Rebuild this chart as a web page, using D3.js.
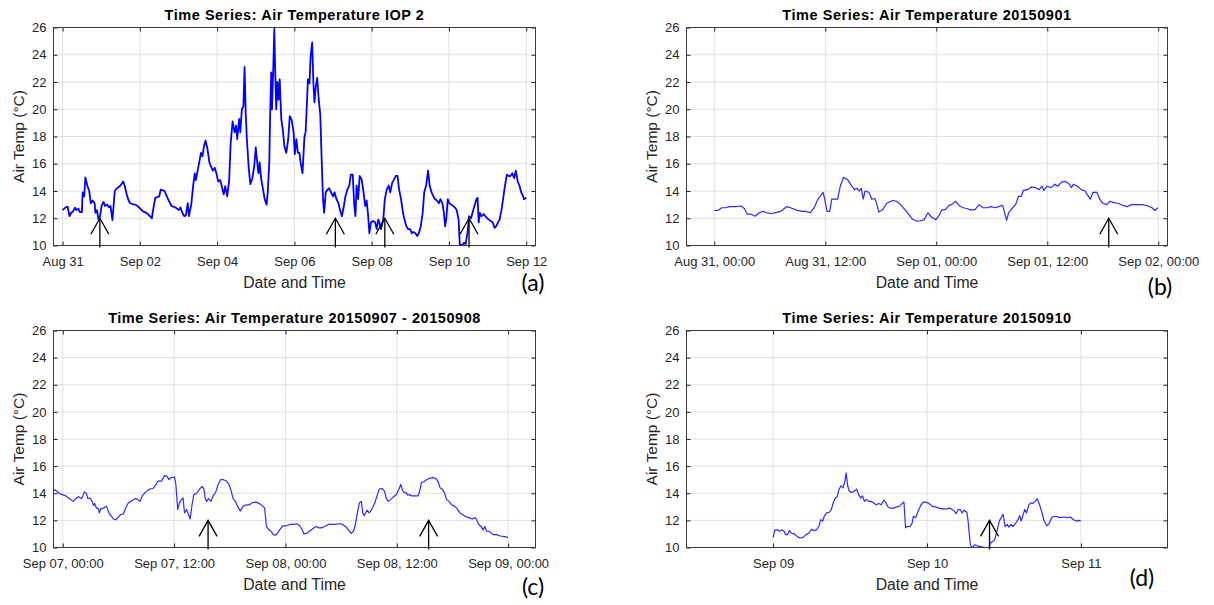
<!DOCTYPE html>
<html>
<head>
<meta charset="utf-8">
<script src="https://cdn.jsdelivr.net/npm/d3@7"></script>
<style>
	body { margin: 0; background: #fff; }
	svg { display: block; }
	text { font-family: "Liberation Sans", Arial, sans-serif; fill: #262626; }
</style>
</head>
<body>
<svg id="chart" width="1214" height="605"></svg>
<script>
'use strict';

const DAY = 864e5;
const HOUR = 36e5;

// y axis (same for every panel)
const tempTicks = [10, 12, 14, 16, 18, 20, 22, 24, 26];

// (a) whole IOP 2, offsets in days from Aug 31 00:00
const iopStart = Date.UTC(2015, 7, 31);
const iopSeries = [
	[0.00,12.6],[0.08,12.8],[0.13,12.85],[0.18,12.15],[0.22,12.4],[0.27,12.5],[0.32,12.77],[0.36,12.6],
	[0.41,12.7],[0.45,12.45],[0.50,12.45],[0.52,13.9],[0.56,13.6],[0.59,15.0],[0.64,14.4],[0.69,14.0],
	[0.73,13.1],[0.78,13.3],[0.83,13.1],[0.85,12.4],[0.89,12.6],[0.93,11.9],[0.97,12.15],[1.01,12.9],
	[1.06,13.2],[1.10,12.9],[1.15,13.0],[1.20,12.8],[1.24,12.9],[1.29,11.86],[1.32,12.9],[1.35,14.0],
	[1.41,14.2],[1.48,14.35],[1.52,14.5],[1.57,14.7],[1.61,14.35],[1.66,13.75],[1.71,13.3],[1.75,13.1],
	[1.85,13.0],[1.89,13.0],[1.99,12.77],[2.08,12.5],[2.17,12.4],[2.26,12.15],[2.31,12.0],[2.36,12.9],
	[2.40,13.5],[2.50,13.6],[2.54,14.1],[2.64,14.0],[2.73,13.4],[2.82,12.9],[2.91,12.8],[3.01,12.6],
	[3.05,12.8],[3.10,12.4],[3.15,12.15],[3.19,12.2],[3.24,13.1],[3.27,12.15],[3.33,13.0],[3.38,14.4],
	[3.42,15.3],[3.45,14.8],[3.49,15.4],[3.55,16.3],[3.58,16.8],[3.62,16.55],[3.66,17.3],[3.70,17.7],
	[3.75,17.1],[3.80,16.1],[3.84,15.8],[3.89,15.5],[3.94,15.7],[3.98,15.3],[4.03,14.7],[4.08,14.8],
	[4.12,14.35],[4.17,13.75],[4.21,14.35],[4.26,13.6],[4.31,14.7],[4.35,17.5],[4.40,19.1],[4.45,18.3],
	[4.49,18.8],[4.52,17.8],[4.57,19.3],[4.60,18.3],[4.64,20.0],[4.68,20.2],[4.71,23.1],[4.74,19.7],
	[4.77,17.8],[4.82,15.6],[4.86,14.5],[4.91,14.9],[4.96,15.8],[5.00,17.2],[5.03,16.3],[5.07,15.3],
	[5.10,16.1],[5.14,14.9],[5.19,14.1],[5.23,13.4],[5.28,13.0],[5.31,13.9],[5.35,16.1],[5.37,19.3],
	[5.40,22.7],[5.42,20.0],[5.45,22.7],[5.48,25.9],[5.50,23.2],[5.53,20.0],[5.56,22.0],[5.59,20.7],
	[5.62,22.2],[5.66,19.3],[5.70,18.5],[5.74,17.3],[5.79,16.8],[5.84,17.8],[5.88,19.5],[5.93,19.2],
	[5.98,18.3],[6.01,16.7],[6.05,17.8],[6.09,16.8],[6.13,16.8],[6.16,16.1],[6.21,15.3],[6.26,18.0],
	[6.29,18.3],[6.32,20.2],[6.35,22.2],[6.39,21.9],[6.42,23.9],[6.46,24.9],[6.49,22.0],[6.52,20.5],
	[6.55,21.6],[6.59,22.3],[6.63,20.7],[6.67,19.6],[6.70,16.8],[6.74,13.4],[6.77,12.4],[6.81,13.9],
	[6.86,14.1],[6.90,14.2],[6.95,13.9],[7.00,13.6],[7.04,13.9],[7.09,13.4],[7.14,13.1],[7.18,12.6],
	[7.23,12.15],[7.28,12.9],[7.32,13.6],[7.37,14.1],[7.42,14.4],[7.46,15.2],[7.51,15.2],[7.55,12.9],
	[7.58,12.15],[7.61,14.4],[7.65,13.4],[7.69,15.1],[7.74,14.85],[7.79,13.9],[7.83,12.9],[7.87,13.3],
	[7.91,12.15],[7.94,10.9],[7.98,11.7],[8.04,11.8],[8.09,11.7],[8.13,11.2],[8.17,11.9],[8.20,11.7],
	[8.24,11.2],[8.30,11.9],[8.34,13.4],[8.39,14.1],[8.44,14.4],[8.48,13.9],[8.53,14.6],[8.58,14.85],
	[8.62,15.1],[8.67,15.1],[8.71,14.1],[8.76,13.4],[8.81,12.4],[8.85,11.9],[8.90,11.4],[8.95,11.2],
	[8.99,11.2],[9.04,10.9],[9.08,11.0],[9.13,10.9],[9.18,10.7],[9.22,10.9],[9.27,11.4],[9.32,12.4],
	[9.36,13.9],[9.41,14.4],[9.46,15.5],[9.50,14.4],[9.55,13.9],[9.60,13.6],[9.64,13.4],[9.69,13.3],
	[9.74,13.1],[9.78,13.4],[9.83,13.1],[9.87,12.4],[9.90,11.4],[9.93,11.9],[9.97,13.4],[10.01,13.1],
	[10.06,13.0],[10.11,12.9],[10.15,12.8],[10.20,12.6],[10.25,11.9],[10.28,10.1],[10.34,10.0],[10.39,10.2],
	[10.43,10.1],[10.48,10.9],[10.52,12.15],[10.57,12.0],[10.61,12.4],[10.66,12.9],[10.71,13.4],[10.74,13.5],
	[10.77,11.7],[10.80,12.4],[10.84,12.15],[10.90,12.3],[10.94,12.15],[10.99,12.0],[11.03,11.9],[11.08,11.8],
	[11.13,11.7],[11.18,11.3],[11.22,11.4],[11.27,11.7],[11.31,11.9],[11.36,12.6],[11.41,13.6],[11.45,14.4],
	[11.50,15.2],[11.55,15.1],[11.59,15.1],[11.64,15.3],[11.69,14.95],[11.73,15.5],[11.78,14.7],[11.83,14.35],
	[11.87,13.9],[11.92,13.6],[11.94,13.4],[12.00,13.5]
];
const iopArrows = [0.965, 7.06, 8.34, 10.52];

// (b) 20150901, offsets in hours from Aug 31 00:00
const sep01Start = Date.UTC(2015, 7, 31);
const sep01Series = [
	[0,12.57],[0.38,12.57],[0.81,12.77],[1.23,12.77],[1.66,12.85],[2.29,12.85],[2.93,12.9],[3.27,12.7],
	[3.57,12.3],[3.99,12.3],[4.42,12.15],[4.84,12.4],[5.27,12.5],[5.69,12.4],[6.12,12.35],[6.54,12.4],
	[7.18,12.5],[7.82,12.85],[8.24,12.77],[8.88,12.6],[9.52,12.5],[9.94,12.5],[10.37,12.4],[10.79,12.77],
	[11.21,13.4],[11.77,13.9],[11.94,13.4],[12.19,12.5],[12.49,12.5],[12.70,13.4],[13.13,13.4],[13.34,13.4],
	[13.64,14.4],[13.98,15.0],[14.40,14.85],[14.83,14.4],[15.17,14.1],[15.46,14.2],[15.68,14.0],[15.89,14.2],
	[16.10,13.4],[16.31,14.0],[16.74,13.9],[17.03,13.4],[17.37,13.45],[17.59,13.0],[17.80,12.45],[18.22,12.65],
	[18.65,13.1],[19.29,13.3],[19.71,13.25],[20.14,13.0],[20.77,12.5],[21.41,11.95],[21.84,11.8],[22.26,11.8],
	[22.69,11.9],[23.11,12.4],[23.53,12.05],[23.96,11.9],[24.26,12.15],[24.60,12.6],[25.02,12.65],[25.36,12.95],
	[25.66,13.0],[26.08,13.25],[26.51,12.9],[26.93,12.77],[27.36,12.7],[27.78,12.6],[28.21,12.65],[28.63,13.0],
	[29.06,12.77],[29.48,12.77],[29.91,12.85],[30.33,12.77],[30.76,12.85],[31.18,12.95],[31.39,12.4],[31.61,11.85],
	[31.82,12.4],[32.16,12.7],[32.58,13.0],[32.88,13.6],[33.18,13.6],[33.43,14.05],[33.86,14.1],[34.28,14.3],
	[34.71,14.25],[35.13,14.1],[35.43,14.35],[35.64,14.05],[35.98,14.35],[36.41,14.25],[36.83,14.5],[37.13,14.35],
	[37.55,14.65],[37.98,14.7],[38.40,14.5],[38.61,14.25],[38.83,14.5],[39.25,14.35],[39.68,14.1],[40.10,14.0],
	[40.31,13.75],[40.65,13.4],[40.95,13.9],[41.38,13.9],[41.67,13.4],[42.01,13.1],[42.44,13.0],[42.78,13.25],
	[43.20,13.15],[43.63,13.1],[44.14,12.95],[44.65,12.85],[45.07,13.0],[45.62,13.0],[46.26,13.0],[46.90,12.9],
	[47.32,12.77],[47.62,12.57],[47.96,12.77]
];
const sep01Arrows = [42.65];

// (c) 20150907 - 20150908, offsets in hours from Sep 07 00:00
const sep07Start = Date.UTC(2015, 8, 7);
const sep07Series = [
	[-1.0,14.2],[-0.81,14.25],[-0.42,14.0],[-0.04,13.9],[0.35,13.8],[0.73,13.6],[1.12,13.4],[1.39,13.6],
	[1.70,13.75],[2.01,13.6],[2.16,13.8],[2.31,14.1],[2.55,14.0],[2.70,13.6],[2.93,13.65],[3.16,13.4],
	[3.32,13.1],[3.43,13.25],[3.63,12.9],[3.82,12.9],[3.94,12.55],[4.09,12.85],[4.40,12.9],[4.71,13.05],
	[4.98,12.55],[5.25,12.3],[5.48,12.1],[5.71,12.05],[5.94,12.2],[6.25,12.45],[6.52,12.45],[6.71,12.8],
	[7.02,13.25],[7.41,13.45],[7.79,13.6],[8.06,13.55],[8.33,13.4],[8.56,13.8],[8.95,14.1],[9.34,14.3],
	[9.72,14.35],[10.07,14.65],[10.26,14.9],[10.65,14.9],[10.96,15.3],[11.23,15.25],[11.46,15.0],[11.65,15.15],
	[12.04,15.2],[12.19,14.65],[12.38,12.8],[12.58,13.3],[12.81,13.55],[12.96,13.65],[13.12,12.55],[13.35,12.8],
	[13.54,12.45],[13.73,12.1],[13.93,13.15],[14.12,13.9],[14.43,14.0],[14.74,14.3],[15.01,14.5],[15.20,14.35],
	[15.36,13.6],[15.51,13.4],[15.70,13.6],[15.97,13.4],[16.24,13.85],[16.47,14.05],[16.74,14.65],[17.01,15.0],
	[17.32,15.0],[17.63,14.9],[17.90,14.65],[18.09,14.3],[18.36,13.6],[18.60,13.4],[18.83,13.05],[19.14,12.7],
	[19.44,13.05],[19.83,13.15],[20.14,13.15],[20.41,13.3],[20.80,13.35],[21.18,13.25],[21.57,13.05],[21.76,12.9],
	[21.95,11.55],[22.22,11.3],[22.45,11.2],[22.69,10.95],[22.92,10.9],[23.15,11.05],[23.38,11.3],[23.69,11.6],
	[24.07,11.6],[24.46,11.7],[24.85,11.7],[25.23,11.75],[25.54,11.6],[25.81,11.3],[26.00,11.0],[26.31,11.05],
	[26.70,11.25],[27.08,11.45],[27.35,11.55],[27.55,11.45],[27.86,11.45],[28.24,11.55],[28.63,11.7],[29.01,11.7],
	[29.40,11.7],[29.78,11.75],[30.17,11.7],[30.56,11.5],[30.83,11.25],[31.10,11.05],[31.40,11.3],[31.60,11.95],
	[31.79,12.7],[31.98,13.3],[32.18,13.4],[32.33,12.55],[32.48,12.35],[32.64,12.55],[32.79,12.75],[33.02,12.55],
	[33.33,12.85],[33.64,13.3],[33.91,13.9],[34.10,14.3],[34.41,14.35],[34.68,14.15],[34.88,13.6],[35.07,13.4],
	[35.34,13.55],[35.65,13.75],[35.96,13.9],[36.23,14.3],[36.42,14.65],[36.61,14.25],[36.81,14.05],[37.00,14.05],
	[37.19,13.85],[37.38,13.9],[37.65,13.8],[37.96,13.8],[38.27,13.8],[38.43,14.05],[38.66,14.8],[38.93,14.85],
	[39.20,15.0],[39.51,15.1],[39.89,15.15],[40.20,15.1],[40.43,14.9],[40.66,14.4],[40.90,14.3],[41.13,14.05],
	[41.36,13.55],[41.63,13.4],[41.90,13.15],[42.21,13.05],[42.52,12.85],[42.79,12.55],[43.06,12.45],[43.36,12.3],
	[43.75,12.2],[44.14,12.1],[44.44,12.2],[44.60,12.05],[44.83,11.7],[45.10,11.55],[45.29,11.3],[45.49,11.55],
	[45.68,11.2],[45.87,11.2],[46.14,11.1],[46.37,10.95],[46.76,10.95],[47.14,10.85],[47.61,10.8],[47.99,10.75]
];
const sep07Arrows = [15.66, 39.43];

// (d) 20150910, offsets in hours from Sep 09 00:00
const sep10Start = Date.UTC(2015, 8, 9);
const sep10Series = [
	[0,10.75],[0.30,11.3],[0.67,11.3],[1.04,11.2],[1.34,11.3],[1.64,11.25],[1.95,10.95],[2.25,10.95],
	[2.56,11.25],[2.86,11.05],[3.29,11.0],[3.78,10.8],[4.20,10.7],[4.69,10.75],[5.12,10.95],[5.54,11.05],
	[6.03,11.35],[6.33,11.25],[6.76,11.3],[7.13,11.55],[7.43,12.05],[7.74,11.95],[7.98,12.3],[8.35,12.55],
	[8.77,12.6],[9.08,12.8],[9.38,13.3],[9.69,13.65],[9.99,13.75],[10.29,14.3],[10.60,14.55],[10.90,14.4],
	[11.21,14.9],[11.39,15.5],[11.63,14.55],[11.88,14.15],[12.24,14.05],[12.61,14.15],[13.04,14.3],[13.34,13.9],
	[13.64,13.65],[13.95,13.8],[14.25,13.4],[14.56,13.55],[14.92,13.4],[15.29,13.4],[15.65,13.3],[16.08,13.15],
	[16.51,13.25],[16.87,13.15],[17.30,13.5],[17.60,13.3],[17.91,13.0],[18.33,12.9],[18.82,12.9],[19.31,13.0],
	[19.74,13.05],[20.16,13.25],[20.41,13.35],[20.65,11.45],[20.95,11.55],[21.38,11.55],[21.68,11.8],[21.87,12.3],
	[22.23,12.2],[22.60,12.65],[22.96,13.05],[23.39,13.35],[23.82,13.35],[24.30,13.25],[24.79,13.05],[25.28,13.0],
	[25.83,12.9],[26.44,12.85],[27.05,12.85],[27.65,12.9],[28.08,12.75],[28.57,12.5],[28.87,12.8],[29.18,12.8],
	[29.48,12.55],[29.79,12.75],[30.21,12.6],[30.39,12.05],[30.58,11.05],[30.76,10.2],[31.00,10.0],[31.49,10.2],
	[31.92,10.1],[32.53,10.05],[33.14,10.0],[33.62,10.0],[33.87,10.3],[34.23,10.45],[34.54,10.55],[34.96,11.3],
	[35.27,11.95],[35.57,12.2],[35.88,12.45],[36.18,11.55],[36.49,11.7],[36.79,11.5],[37.10,11.7],[37.40,11.55],
	[37.83,11.8],[38.19,12.05],[38.44,12.35],[38.68,11.95],[38.92,12.3],[39.23,12.8],[39.53,12.55],[39.84,13.1],
	[40.14,13.3],[40.51,13.25],[40.87,13.4],[41.18,13.6],[41.48,13.25],[41.85,12.7],[42.27,11.95],[42.70,11.6],
	[43.06,11.8],[43.49,12.25],[44.10,12.3],[44.71,12.2],[45.32,12.25],[45.93,12.2],[46.35,12.25],[46.84,12.05],
	[47.33,11.95],[47.69,12.0],[48.00,11.95]
];
const sep10Arrows = [33.75];

const arrowTip = 12;

const panels = [
	{
		title: 'Time Series: Air Temperature IOP 2',
		box: { left: 53.5, right: 535.5, top: 27.5, bottom: 245.5 },
		start: iopStart, unit: DAY, series: iopSeries, arrows: iopArrows,
		domain: [-0.235, 12.24],
		ticks: d3.utcDay.range(new Date(iopStart), new Date(iopStart + 12 * DAY + 1), 2),
		format: d3.utcFormat('%b %d'),
		letter: '(a)', letterPos: [533, 291],
		stroke: '#0000ff', width: 1.8
	},
	{
		title: 'Time Series: Air Temperature 20150901',
		box: { left: 686.5, right: 1167.5, top: 27.5, bottom: 245.5 },
		start: sep01Start, unit: HOUR, series: sep01Series, arrows: sep01Arrows,
		domain: [-3.0, 49.0],
		ticks: d3.utcHour.range(new Date(sep01Start), new Date(sep01Start + 48 * HOUR + 1), 12),
		format: d3.utcFormat('%b %d, %H:%M'),
		letter: '(b)', letterPos: [1160, 295],
		stroke: '#2b2bff', width: 1.2
	},
	{
		title: 'Time Series: Air Temperature 20150907 - 20150908',
		box: { left: 53.5, right: 535.5, top: 330.5, bottom: 547.5 },
		start: sep07Start, unit: HOUR, series: sep07Series, arrows: sep07Arrows,
		domain: [-1.0, 50.95],
		ticks: d3.utcHour.range(new Date(sep07Start), new Date(sep07Start + 48 * HOUR + 1), 12),
		format: d3.utcFormat('%b %d, %H:%M'),
		letter: '(c)', letterPos: [533, 595],
		stroke: '#2b2bff', width: 1.2
	},
	{
		title: 'Time Series: Air Temperature 20150910',
		box: { left: 686.5, right: 1167.5, top: 330.5, bottom: 547.5 },
		start: sep10Start, unit: HOUR, series: sep10Series, arrows: sep10Arrows,
		domain: [-13.5, 61.5],
		ticks: d3.utcDay.range(new Date(sep10Start), new Date(sep10Start + 48 * HOUR + 1), 1),
		format: d3.utcFormat('%b %d'),
		letter: '(d)', letterPos: [1142, 586],
		stroke: '#2b2bff', width: 1.2
	}
];

const svg = d3.select('#chart');
svg.append('rect').attr('width', 1214).attr('height', 605).attr('fill', '#fff');

panels.forEach((p, i) => drawPanel(p, i));

function drawPanel(p, i) {
	const b = p.box;
	const toDate = t => new Date(p.start + t * p.unit);
	const x = d3.scaleUtc()
		.domain(p.domain.map(toDate))
		.range([b.left, b.right]);
	const y = d3.scaleLinear()
		.domain([10, 26])
		.range([b.bottom, b.top]);

	const g = svg.append('g');

	// grid lines
	g.append('g').selectAll('line.gy')
		.data(tempTicks)
		.join('line')
			.attr('x1', b.left).attr('x2', b.right)
			.attr('y1', d => y(d)).attr('y2', d => y(d))
			.attr('stroke', '#e0e0e0').attr('stroke-width', 1);
	g.append('g').selectAll('line.gx')
		.data(p.ticks)
		.join('line')
			.attr('x1', d => x(d)).attr('x2', d => x(d))
			.attr('y1', b.top).attr('y2', b.bottom)
			.attr('stroke', '#e0e0e0').attr('stroke-width', 1);

	// axes via d3.axis, ticks inward
	const w = b.right - b.left, h = b.bottom - b.top;
	const axStyle = sel => {
		sel.select('.domain').remove();
		sel.selectAll('.tick line').attr('stroke', '#262626');
		sel.selectAll('.tick text')
			.attr('fill', '#262626')
			.style('font-size', '13px')
			.style('font-family', '"Liberation Sans", Arial, sans-serif');
	};
	g.append('g')
		.attr('transform', `translate(0,${b.bottom})`)
		.call(d3.axisBottom(x).tickValues(p.ticks).tickFormat(p.format).tickSizeInner(-4).tickSizeOuter(0).tickPadding(11))
		.call(axStyle);
	g.append('g')
		.attr('transform', `translate(0,${b.top})`)
		.call(d3.axisTop(x).tickValues(p.ticks).tickFormat('').tickSizeInner(-4).tickSizeOuter(0))
		.call(axStyle);
	g.append('g')
		.attr('transform', `translate(${b.left},0)`)
		.call(d3.axisLeft(y).tickValues(tempTicks).tickSizeInner(-4).tickSizeOuter(0).tickPadding(7))
		.call(axStyle);
	g.append('g')
		.attr('transform', `translate(${b.right},0)`)
		.call(d3.axisRight(y).tickValues(tempTicks).tickFormat('').tickSizeInner(-4).tickSizeOuter(0))
		.call(axStyle);

	// data line
	const clipId = 'clip' + i;
	svg.append('clipPath').attr('id', clipId)
		.append('rect')
			.attr('x', b.left).attr('y', b.top - 1)
			.attr('width', w).attr('height', h + 1);
	g.append('path')
		.datum(p.series)
		.attr('clip-path', `url(#${clipId})`)
		.attr('fill', 'none')
		.attr('stroke', p.stroke)
		.attr('stroke-width', p.width)
		.attr('stroke-linejoin', 'round')
		.attr('d', d3.line()
			.x(d => x(toDate(d[0])))
			.y(d => y(d[1])));

	// axes box
	g.append('rect')
		.attr('x', b.left).attr('y', b.top)
		.attr('width', w).attr('height', h)
		.attr('fill', 'none')
		.attr('stroke', '#3a3a3a')
		.attr('stroke-width', 1);

	// arrows marking events
	const arr = g.append('g').selectAll('g')
		.data(p.arrows)
		.join('g')
			.attr('stroke', '#000')
			.attr('stroke-width', 1.3)
			.attr('fill', 'none');
	arr.append('line')
		.attr('x1', d => x(toDate(d))).attr('x2', d => x(toDate(d)))
		.attr('y1', b.bottom + 2).attr('y2', y(arrowTip));
	arr.append('path')
		.attr('d', d => {
			const ax = x(toDate(d)), ay = y(arrowTip);
			return `M${ax - 9},${ay + 16}L${ax},${ay}L${ax + 9},${ay + 16}`;
		});

	// title and labels
	g.append('text')
		.attr('x', (b.left + b.right) / 2)
		.attr('y', b.top - 8)
		.attr('text-anchor', 'middle')
		.style('font-size', '14.5px')
		.style('font-weight', 'bold')
		.style('letter-spacing', '0.55px')
		.style('fill', '#000')
		.text(p.title);
	g.append('text')
		.attr('x', (b.left + b.right) / 2)
		.attr('y', b.bottom + 42)
		.attr('text-anchor', 'middle')
		.style('font-size', '15.8px')
		.text('Date and Time');
	g.append('text')
		.attr('transform', `translate(${b.left - 30},${(b.top + b.bottom) / 2}) rotate(-90)`)
		.attr('text-anchor', 'middle')
		.style('font-size', '15.5px')
		.text('Air Temp (°C)');
	g.append('text')
		.attr('x', p.letterPos[0])
		.attr('y', p.letterPos[1])
		.attr('text-anchor', 'middle')
		.style('font-size', '23px')
		.style('font-family', 'Lato, "Open Sans", sans-serif')
		.style('fill', '#000')
		.text(p.letter);
}
</script>
</body>
</html>
